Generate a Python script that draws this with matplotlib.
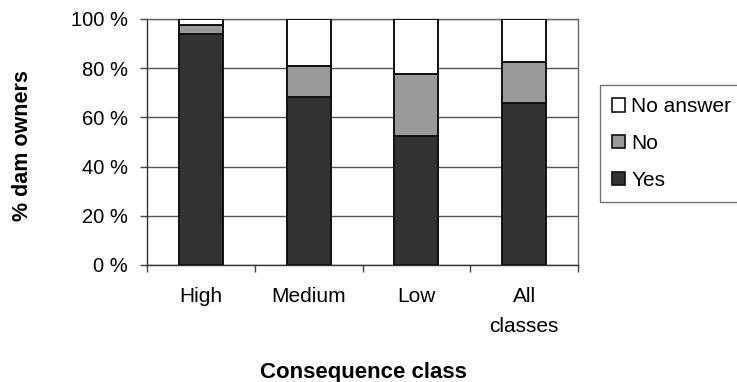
import matplotlib
matplotlib.use("Agg")
import matplotlib.pyplot as plt
from matplotlib.patches import Patch
import numpy as np

plt.rcParams['font.family'] = ['Liberation Sans', 'DejaVu Sans']

categories = ["High", "Medium", "Low", "All\nclasses"]
yes = [93.8, 68.4, 52.3, 66.0]
no = [3.6, 12.6, 25.5, 16.7]
no_answer = [100 - a - b for a, b in zip(yes, no)]
yticks = [0, 20, 40, 60, 80, 100]
ytick_labels = ["0 %", "20 %", "40 %", "60 %", "80 %", "100 %"]

fig = plt.figure(figsize=(7.37, 3.82), dpi=100)
ax = fig.add_axes([0.1995, 0.3063, 0.5848, 0.644])

x = np.arange(len(categories))
w = 0.41
ec = "#111111"
lw = 1.4
ax.bar(x, yes, w, color="#333333", edgecolor=ec, linewidth=lw, zorder=3)
ax.bar(x, no, w, bottom=yes, color="#9a9a9a", edgecolor=ec, linewidth=lw, zorder=3)
ax.bar(x, no_answer, w, bottom=np.add(yes, no), color="white",
       edgecolor=ec, linewidth=lw, zorder=3)

ax.set_xlim(-0.5, len(categories) - 0.5)
ax.set_ylim(0, 100)
ax.set_yticks(yticks)
ax.set_yticklabels(ytick_labels, fontsize=14.5)
ax.set_xticks(x)
ax.set_xticklabels(categories, fontsize=15, linespacing=1.7, va="top")
ax.tick_params(axis="x", length=0, pad=16)
ax.set_xticks(np.arange(len(categories) + 1) - 0.5, minor=True)
ax.tick_params(axis="x", which="minor", length=5, width=1, color="#444444")
ax.tick_params(axis="y", length=5, width=1, color="#444444", pad=9)

ax.yaxis.grid(True, color="#555555", linewidth=1.0, zorder=0)
for s in ax.spines.values():
    s.set_color("#666666")
    s.set_linewidth(1.0)
ax.spines["left"].set_color("#333333")
ax.spines["bottom"].set_color("#333333")

fig.text(0.031, 0.618, "% dam owners", rotation=90, fontsize=15.5,
         fontweight="bold", ha="center", va="center")
fig.text(0.493, 0.026, "Consequence class", fontsize=16,
         fontweight="bold", ha="center", va="center")

handles = [
    Patch(facecolor="white", edgecolor=ec, linewidth=1.2, label="No answer"),
    Patch(facecolor="#9a9a9a", edgecolor=ec, linewidth=1.2, label="No"),
    Patch(facecolor="#333333", edgecolor=ec, linewidth=1.2, label="Yes"),
]
leg = fig.legend(handles=handles, loc="upper left",
                 bbox_to_anchor=(0.814, 0.778), fontsize=15, frameon=True,
                 fancybox=False, edgecolor="#555555", handlelength=0.6,
                 handleheight=0.6, handletextpad=0.3, labelspacing=0.85,
                 borderpad=0.6, borderaxespad=0)
leg.get_frame().set_linewidth(1.0)

fig.savefig("out.png", dpi=100)
